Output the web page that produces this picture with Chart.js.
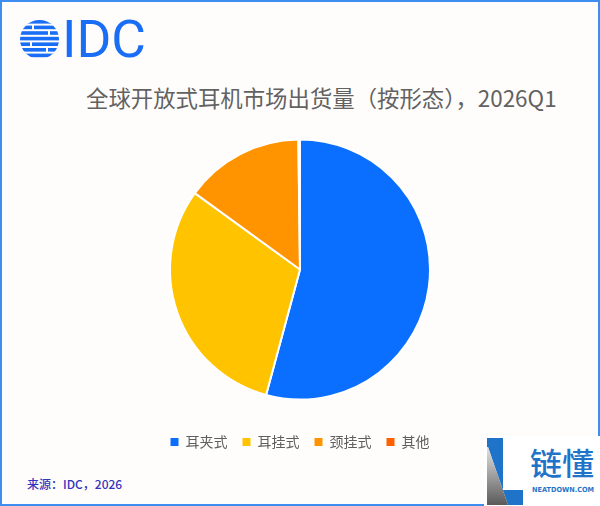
<!DOCTYPE html>
<html>
<head>
<meta charset="utf-8">
<script src="https://cdn.jsdelivr.net/npm/chart.js@4/dist/chart.umd.min.js"></script>
<style>
  html, body { margin: 0; padding: 0; }
  body { width: 600px; height: 506px; position: relative; overflow: hidden; background: #fffdfb;
         font-family: "Noto Sans CJK SC", "Noto Sans", sans-serif; }
  .frame { position: absolute; left: 0; top: 0; width: 596px; height: 502px; border: 2px solid #3d8ef0; }
  .title { position: absolute; left: 86px; top: 83px; font-size: 22.4px; line-height: 28px; color: #626262; white-space: nowrap; }
  .source { position: absolute; left: 27px; top: 476px; font-size: 12px; line-height: 16px; color: #3434bd; font-weight: 500; }
  #chartBox { position: absolute; left: 0; top: 95px; width: 600px; height: 364px; }
  .wm { position: absolute; left: 484px; top: 436px; width: 116px; height: 70px; background: #fff; }
</style>
</head>
<body>
<div class="frame"></div>

<!-- IDC logo -->
<svg style="position:absolute;left:0;top:0" width="160" height="70">
  <defs><clipPath id="globe"><circle cx="39.5" cy="39.5" r="19.5"/></clipPath></defs>
  <g clip-path="url(#globe)" fill="#1a6ef5">
    <rect x="18" y="20" width="44" height="3.6"/>
    <rect x="18" y="25.6" width="14" height="3.6"/><rect x="34" y="25.6" width="28" height="3.6"/>
    <rect x="18" y="31.2" width="30" height="3.6"/><rect x="50" y="31.2" width="12" height="3.6"/>
    <rect x="18" y="36.8" width="44" height="3.6"/>
    <rect x="18" y="42.4" width="12" height="3.6"/><rect x="32" y="42.4" width="30" height="3.6"/>
    <rect x="18" y="48" width="28" height="3.6"/><rect x="48" y="48" width="14" height="3.6"/>
    <rect x="18" y="53.6" width="44" height="3.6"/>
  </g>
  <text x="62" y="57" font-family="Roboto, 'Liberation Sans', sans-serif" font-size="51" fill="#1a6ef5"
        textLength="84" lengthAdjust="spacingAndGlyphs">IDC</text>
</svg>

<div class="title">全球开放式耳机市场出货量（按形态），2026Q1</div>

<div id="chartBox"><canvas id="c" width="600" height="364"></canvas></div>

<div class="source">来源：IDC，2026</div>

<!-- watermark -->
<div class="wm"></div>
<svg style="position:absolute;left:480px;top:430px" width="120" height="76">
  <defs>
    <linearGradient id="g" x1="0" y1="0" x2="0" y2="1">
      <stop offset="0" stop-color="#e2e2e2"/><stop offset="1" stop-color="#5a5a5a"/>
    </linearGradient>
  </defs>
  <polygon fill="#1f74c9" points="7,8 23,8 23,60 43,60 43,75 28,75 8,17 7,17"/>
  <polygon fill="url(#g)" points="7,17 8,17 28,75 7,75"/>
  <text x="50" y="45" font-family="'Noto Sans CJK SC', sans-serif" font-size="31" font-weight="500" fill="#1f74c9"
        textLength="64" lengthAdjust="spacingAndGlyphs">链懂</text>
  <text x="52" y="62" font-family="'DejaVu Sans', sans-serif" font-size="7" font-weight="bold" fill="#1f74c9"
        textLength="62" lengthAdjust="spacingAndGlyphs">NEATDOWN.COM</text>
</svg>

<script>
const categories = ['耳夹式', '耳挂式', '颈挂式', '其他'];
const shares = [54.2, 30.8, 14.8, 0.2];
const colors = ['#0a6eff', '#ffc300', '#ff9400', '#ff6100'];

const defaultLabels = Chart.overrides.pie.plugins.legend.labels.generateLabels;

new Chart(document.getElementById('c').getContext('2d'), {
  type: 'pie',
  data: {
    labels: categories,
    datasets: [{
      data: shares,
      backgroundColor: colors,
      borderColor: '#ffffff',
      borderWidth: 2,
    }],
  },
  options: {
    responsive: false,
    animation: false,
    radius: 130,
    layout: { padding: { top: 24 } },
    plugins: {
      tooltip: { enabled: false },
      legend: {
        position: 'bottom',
        labels: {
          boxWidth: 8, boxHeight: 8, padding: 15,
          color: '#5f5f5f',
          font: { size: 14, family: '"Noto Sans CJK SC", sans-serif' },
          generateLabels(chart) {
            return defaultLabels(chart).map(l => ({ ...l, lineWidth: 0 }));
          },
        },
      },
    },
  },
});
</script>
</body>
</html>
